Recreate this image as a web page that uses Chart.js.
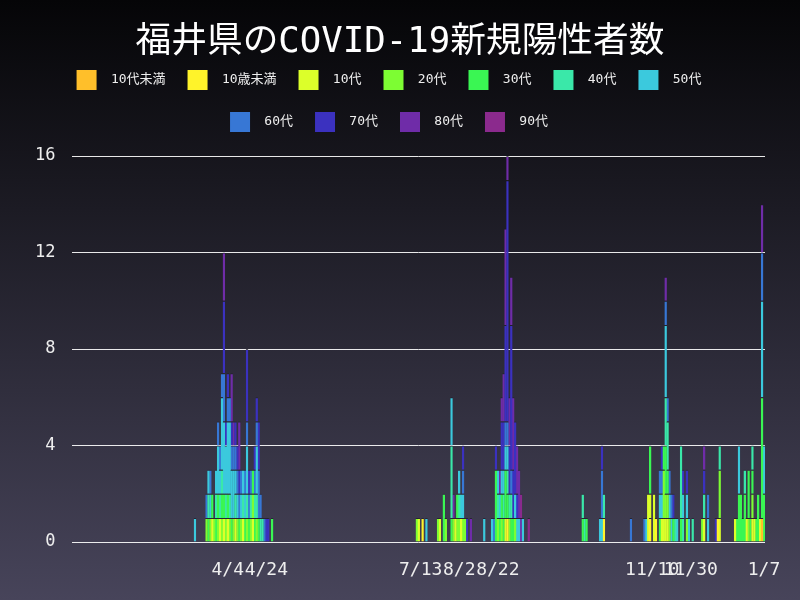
<!DOCTYPE html>
<html lang="ja">
<head>
<meta charset="utf-8">
<title>福井県のCOVID-19新規陽性者数</title>
<script src="https://cdn.jsdelivr.net/npm/chart.js@4"></script>
<style>
  html, body { margin: 0; padding: 0; }
  body {
    width: 800px;
    height: 600px;
    overflow: hidden;
    background: linear-gradient(to bottom, #050507 0%, #47445a 100%);
  }
  canvas { display: block; }
</style>
</head>
<body>
<canvas id="covidChart" width="800" height="600"></canvas>
<script>
// date range shown on the x axis
const startDate = new Date(2020, 0, 15);
const endDate = new Date(2021, 0, 7);
const tickLabels = ['4/4', '4/24', '7/13', '8/2', '8/22', '11/10', '11/30', '1/7'];
const yTicks = [0, 4, 8, 12, 16];

const ageGroups = ['10代未満', '10歳未満', '10代', '20代', '30代', '40代', '50代', '60代', '70代', '80代', '90代'];
const groupColors = ['#ffbf2a', '#fff32a', '#dcff2a', '#7dfd33', '#3af653', '#3ae8a9',
                     '#3bc9dd', '#3777d5', '#3b31bf', '#6f2ca8', '#8b2a8d'];

// new cases per day for each age group (days not listed had none)
const casesU10a = {'1/6': 1};
const casesU10b = {'7/14': 1, '8/27': 1, '10/16': 1, '11/9': 1, '11/12': 1, '12/14': 1};
const cases10s = {'3/27': 1, '3/31': 1, '4/2': 1, '4/4': 1, '4/8': 1, '4/12': 1, '4/17': 1,
  '7/12': 1, '7/23': 1, '7/31': 1, '8/3': 1, '8/26': 1,
  '11/8': 2, '11/9': 1, '11/11': 2, '11/15': 1, '11/16': 1, '11/17': 1, '11/18': 1, '12/7': 1,
  '12/15': 1, '12/23': 1, '12/29': 1, '1/1': 1, '1/2': 1, '1/5': 1};
const cases20s = {'3/24': 1, '3/26': 1, '3/28': 1, '3/30': 1, '4/1': 1, '4/3': 1, '4/5': 1, '4/7': 1,
  '4/9': 1, '4/11': 1, '4/14': 1, '4/16': 1, '4/17': 1, '4/19': 1,
  '7/11': 1, '7/22': 1, '7/26': 1, '7/30': 1, '8/1': 1, '8/2': 1, '8/4': 1, '8/5': 1, '8/22': 1,
  '8/24': 1, '8/28': 1, '8/31': 1,
  '11/16': 2, '11/17': 1, '11/18': 1, '11/19': 1, '11/28': 1, '12/6': 1, '12/15': 2, '12/30': 1, '1/1': 1};
const cases30s = {'3/25': 1, '3/27': 1, '3/29': 1, '3/30': 1, '4/1': 1, '4/2': 1, '4/4': 1, '4/6': 1,
  '4/10': 1, '4/13': 1, '4/15': 1, '4/17': 1, '4/18': 1, '4/20': 1, '4/27': 1,
  '7/25': 2, '7/29': 1, '8/1': 1, '8/21': 3, '8/23': 1, '8/24': 1, '8/25': 1, '8/26': 2, '8/27': 1,
  '8/29': 1, '8/30': 1,
  '10/5': 1, '10/7': 1, '11/9': 2, '11/14': 1, '11/16': 1, '11/17': 2, '11/18': 1, '11/21': 1, '11/25': 1,
  '12/24': 1, '12/25': 2, '12/26': 2, '12/27': 1, '12/28': 2, '12/30': 2, '12/31': 1, '1/1': 1, '1/3': 1,
  '1/4': 2, '1/6': 5, '1/7': 2};
const cases40s = {'3/25': 1, '3/29': 1, '3/31': 1, '4/1': 1, '4/3': 1, '4/5': 1, '4/8': 1, '4/12': 1,
  '4/14': 1, '4/16': 1, '4/18': 1, '4/19': 1, '4/21': 1, '4/22': 1,
  '7/29': 3, '8/2': 1, '8/22': 1, '8/25': 1, '8/27': 1, '8/28': 1, '8/29': 1,
  '10/5': 1, '10/6': 1, '10/16': 1, '11/17': 2, '11/18': 2, '11/22': 1, '11/25': 3, '11/26': 1, '12/1': 1,
  '12/7': 1, '12/15': 1, '12/28': 1, '1/1': 1};
const cases50s = {'3/18': 1, '3/25': 1, '3/26': 1, '3/29': 1, '3/30': 2, '3/31': 1, '4/1': 3, '4/2': 3,
  '4/3': 2, '4/4': 3, '4/5': 3, '4/6': 2, '4/7': 2, '4/8': 1, '4/9': 1, '4/11': 1, '4/12': 1, '4/13': 1,
  '4/14': 2, '4/19': 2,
  '7/16': 1, '7/29': 2, '8/2': 1, '8/3': 1, '8/4': 1, '8/15': 1, '8/19': 1, '8/22': 1, '8/23': 1,
  '8/24': 1, '8/25': 1, '8/26': 1, '8/27': 1, '8/31': 1, '9/1': 1, '9/2': 1, '9/4': 1,
  '10/14': 1, '10/15': 1, '11/7': 1, '11/14': 1, '11/15': 1, '11/17': 3, '11/19': 1, '11/20': 1,
  '11/23': 1, '11/26': 1, '11/28': 1, '11/29': 1, '12/9': 1, '12/25': 2, '1/6': 4, '1/7': 2};
const cases60s = {'3/24': 1, '3/26': 1, '3/30': 1, '3/31': 1, '4/1': 1, '4/2': 2, '4/4': 1, '4/5': 1,
  '4/6': 1, '4/7': 1, '4/8': 1, '4/9': 1, '4/10': 1, '4/11': 1, '4/13': 1, '4/14': 1, '4/15': 1,
  '4/16': 1, '4/18': 1, '4/19': 1, '4/20': 2, '4/21': 1, '4/23': 1,
  '8/4': 1, '8/20': 1, '8/26': 1, '8/27': 1, '8/29': 1,
  '10/15': 2, '10/30': 1, '11/6': 1, '11/14': 1, '11/15': 1, '11/17': 1, '11/18': 1, '11/19': 1,
  '11/20': 1, '12/9': 1, '1/6': 2};
const cases70s = {'4/2': 3, '4/3': 1, '4/4': 1, '4/6': 1, '4/8': 1, '4/9': 1, '4/10': 1, '4/14': 3,
  '4/15': 1, '4/18': 1, '4/19': 1, '4/20': 2, '4/24': 1, '4/25': 1,
  '8/4': 1, '8/6': 1, '8/21': 1, '8/24': 2, '8/25': 2, '8/26': 4, '8/27': 10, '8/28': 2, '8/29': 6,
  '8/30': 2, '8/31': 3, '9/1': 1,
  '10/15': 1, '11/15': 1, '11/21': 1, '11/26': 1, '11/28': 1, '12/7': 1, '12/13': 1};
const cases80s = {'4/2': 2, '4/6': 2, '4/7': 1, '4/10': 2,
  '7/30': 1, '8/8': 1, '8/23': 1, '8/24': 1, '8/25': 2, '8/26': 4, '8/27': 1, '8/28': 2, '8/29': 2,
  '8/30': 3, '9/1': 2, '9/2': 2, '9/3': 1,
  '11/17': 1, '12/7': 1, '1/6': 2};
const cases90s = {'9/3': 1, '9/7': 1};

const groupCases = [casesU10a, casesU10b, cases10s, cases20s, cases30s, cases40s,
                    cases50s, cases60s, cases70s, cases80s, cases90s];

// one category per day
const dayLabels = [];
for (let d = new Date(startDate); d <= endDate; d.setDate(d.getDate() + 1)) {
    dayLabels.push((d.getMonth() + 1) + '/' + d.getDate());
}

const datasets = ageGroups.map((name, i) => ({
    label: name,
    data: dayLabels.map(day => groupCases[i][day] || null),
    backgroundColor: groupColors[i],
    borderColor: 'rgba(30, 28, 40, 0.7)',
    borderWidth: {top: 1},
    barPercentage: 1.3,
    categoryPercentage: 1.0
}));

// title is centred on the whole canvas, the legend a little left of it
const blockOffset = {
    id: 'blockOffset',
    afterLayout(chart) {
        chart.titleBlock.left += 8.5;
        chart.titleBlock.right += 8.5;
        chart.legend.left -= 2.5;
        chart.legend.right -= 2.5;
    }
};

Chart.defaults.font.family = "'DejaVu Sans Mono', 'Noto Sans CJK JP', monospace";
Chart.defaults.color = '#eeeeee';

new Chart(document.getElementById('covidChart').getContext('2d'), {
    type: 'bar',
    data: { labels: dayLabels, datasets: datasets },
    options: {
        responsive: false,
        animation: false,
        devicePixelRatio: 1,
        layout: { padding: { left: 18, right: 35, top: 0, bottom: 0.4 } },
        scales: {
            x: {
                stacked: true,
                offset: true,
                grid: { display: false, drawTicks: false },
                border: { display: false },
                ticks: {
                    autoSkip: false,
                    maxRotation: 0,
                    minRotation: 0,
                    padding: 18,
                    color: '#eeeeee',
                    font: { size: 18 },
                    callback: function(value, index) {
                        const day = dayLabels[index];
                        return tickLabels.includes(day) ? day : '';
                    }
                }
            },
            y: {
                stacked: true,
                min: yTicks[0],
                max: yTicks[yTicks.length - 1],
                grid: { color: 'rgba(255, 255, 255, 0.9)', drawTicks: false },
                border: { display: false },
                afterBuildTicks: axis => { axis.ticks = yTicks.map(v => ({ value: v })); },
                ticks: { padding: 17, color: '#eeeeee', font: { size: 17 } }
            }
        },
        plugins: {
            title: {
                display: true,
                text: '福井県のCOVID-19新規陽性者数',
                color: '#ffffff',
                font: { size: 35.7, weight: 'normal', lineHeight: 1.2 },
                padding: { top: 21, bottom: -15.8 }
            },
            subtitle: {
                // empty spacer between legend and plot
                display: true,
                text: '',
                weight: 500,
                padding: 0,
                font: { size: 14, lineHeight: 1 }
            },
            legend: {
                labels: {
                    boxWidth: 20,
                    boxHeight: 20,
                    padding: 22,
                    color: '#eeeeee',
                    font: { size: 13 },
                    generateLabels: chart => Chart.defaults.plugins.legend.labels.generateLabels(chart)
                        .map(item => ({ ...item, text: ' ' + item.text, lineWidth: 0 }))
                }
            },
            tooltip: { enabled: false }
        }
    },
    plugins: [blockOffset]
});
</script>
</body>
</html>
